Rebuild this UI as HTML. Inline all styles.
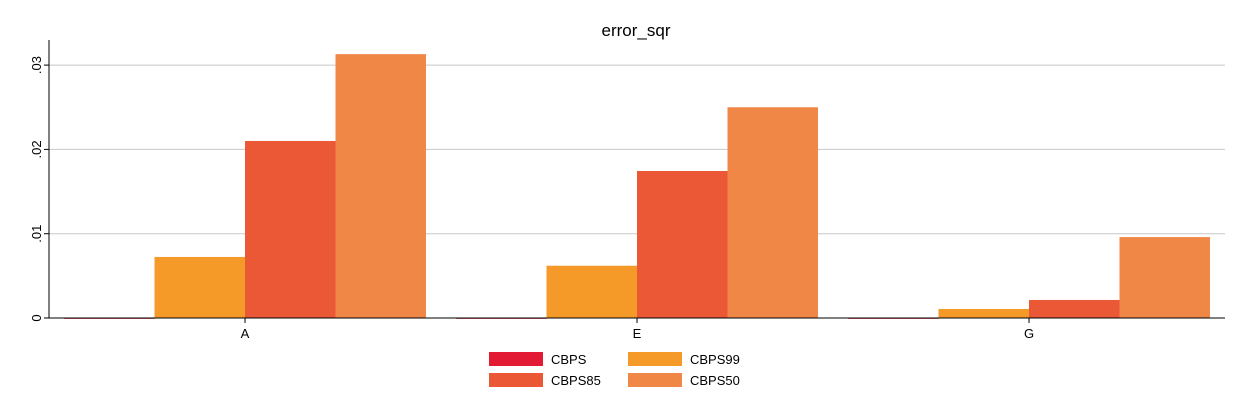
<!DOCTYPE html>
<html><head><meta charset="utf-8"><style>
body{margin:0;background:#fff;}
svg text{font-family:"Liberation Sans",Arial,sans-serif;}
</style></head><body>
<svg id="chart" width="1239" height="413" xmlns="http://www.w3.org/2000/svg">
<rect width="1239" height="413" fill="#fff"/>
<text x="636" y="36" font-size="17" text-anchor="middle" fill="#000">error_sqr</text>
<g id="grid"></g><g id="bars"></g><g id="axes"></g><g id="legend"></g>
</svg>
<script>
const categories = ["A","E","G"];
const seriesNames = ["CBPS","CBPS99","CBPS85","CBPS50"];
const seriesColors = ["#e31a33","#f59a29","#ea5835","#f08746"];
const cbps = [0.00002,0.00002,0.00002];
const cbps99 = [0.00724,0.0062,0.00107];
const cbps85 = [0.0210,0.01744,0.00214];
const cbps50 = [0.0313,0.0250,0.0096];
const yTicks = [0,0.01,0.02,0.03];
const yTickLabels = ["0",".01",".02",".03"];
const series = [cbps,cbps99,cbps85,cbps50];
const NS="http://www.w3.org/2000/svg";
const left=49,right=1225,base=318,pxPerUnit=8430;
const y=v=>base-v*pxPerUnit;
const groupW=(right-left)/categories.length, pad=15, barW=(groupW-2*pad)/series.length;
function mk(tag,attrs,parent){const e=document.createElementNS(NS,tag);for(const k in attrs)e.setAttribute(k,attrs[k]);document.getElementById(parent).appendChild(e);return e;}
yTicks.forEach((t,i)=>{
  if(t>0){const g=mk('line',{x1:left,x2:right,y1:y(t),y2:y(t),stroke:'#c8c8c8','stroke-width':1},'grid');
  
  }
  const tk=mk('line',{x1:left-5,x2:left,y1:y(t),y2:y(t),stroke:'#000'},'axes');
  
  
  const yy=y(t);
  const lb=mk('text',{x:41,y:yy,'font-size':13,'text-anchor':'middle',transform:`rotate(-90 41 ${yy})`},'axes');
  lb.textContent=yTickLabels[i];
  
  
});
categories.forEach((c,ci)=>{
  series.forEach((s,si)=>{
    const x=left+ci*groupW+pad+si*barW;
    const r=mk('rect',{x:x,y:y(s[ci]),width:barW,height:Math.max(1,base-y(s[ci])),fill:seriesColors[si]},'bars');
    
    
  });
  const cx=left+ci*groupW+groupW/2-(ci==0?-0:0);
  const lx=left+ci*groupW+pad+barW*2;
  const tk=mk('line',{x1:lx,x2:lx,y1:base,y2:base+5,stroke:'#000'},'axes');
  
  
  const t=mk('text',{x:lx,y:base+20,'font-size':13,'text-anchor':'middle'},'axes');
  t.textContent=c;
  
  
});
const ax=mk('line',{x1:left,x2:left,y1:40,y2:base,stroke:'#000'},'axes');


const bx=mk('line',{x1:left,x2:right,y1:base,y2:base,stroke:'#000'},'axes');


const legPos=[[489,352],[628,352],[489,373],[628,373]];
const legOrder=[0,1,2,3];
legOrder.forEach((si,i)=>{
  const [lx,ly]=legPos[i];
  const r=mk('rect',{x:lx,y:ly,width:54,height:14,fill:seriesColors[si]},'legend');
  
  
  const t=mk('text',{x:lx+62,y:ly+12,'font-size':13},'legend');
  t.textContent=seriesNames[si];
  
  
});
</script>
</body></html>
